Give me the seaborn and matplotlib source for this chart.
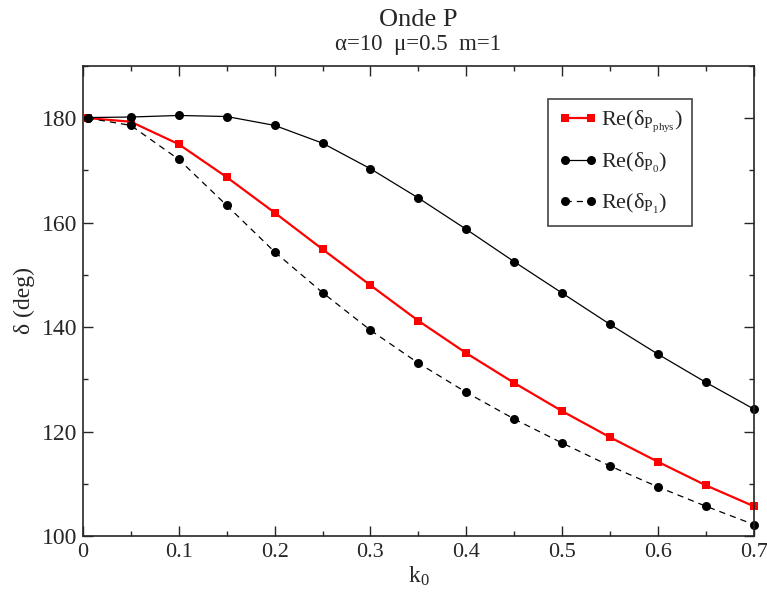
import numpy as np
import pandas as pd
import matplotlib
matplotlib.use("Agg")
import matplotlib.pyplot as plt
import seaborn as sns
from matplotlib.ticker import MultipleLocator

# データ
k0 = [0.005, 0.05, 0.10, 0.15, 0.20, 0.25, 0.30, 0.35,
      0.40, 0.45, 0.50, 0.55, 0.60, 0.65, 0.70]
re_phys = [180.0, 179.3, 175.0, 168.7, 161.9, 154.9, 148.0, 141.2,
           135.0, 129.3, 123.9, 118.9, 114.2, 109.7, 105.7]
re_p0 = [180.1, 180.2, 180.5, 180.3, 178.6, 175.2, 170.3, 164.7,
         158.7, 152.5, 146.5, 140.5, 134.8, 129.4, 124.3]
re_p1 = [180.0, 178.6, 172.1, 163.3, 154.4, 146.6, 139.4, 133.1,
         127.5, 122.4, 117.8, 113.4, 109.4, 105.7, 102.2]

labels = [r"Re(δ$_{\mathrm{P}_{\mathrm{phys}}}$)",
          r"Re(δ$_{\mathrm{P}_{0}}$)",
          r"Re(δ$_{\mathrm{P}_{1}}$)"]
xtick_labels = ["0", "0.1", "0.2", "0.3", "0.4", "0.5", "0.6", "0.7"]

sns.set_style("ticks")
plt.rcParams['font.family'] = ['Liberation Serif', 'DejaVu Serif']
plt.rcParams['mathtext.fontset'] = 'custom'
plt.rcParams['mathtext.rm'] = 'Liberation Serif'
plt.rcParams['mathtext.it'] = 'Liberation Serif:italic'

df = pd.DataFrame({
    "k0": k0 * 3,
    "delta": re_phys + re_p0 + re_p1,
    "series": [labels[0]] * len(k0) + [labels[1]] * len(k0) + [labels[2]] * len(k0),
})

fig = plt.figure(figsize=(7.67, 5.93), dpi=100)
ax = fig.add_axes([0.108, 0.096, 0.875, 0.793])

sns.lineplot(data=df, x="k0", y="delta", hue="series", style="series",
             palette=["#ff0000", "black", "black"],
             markers=["s", "o", "o"],
             dashes=[(), (), (5, 4)],
             markersize=6, markeredgewidth=0, ax=ax, legend=False)

# 線幅とマーカーサイズを系列ごとに調整
for line, lw, ms in zip(ax.get_lines(), [1.6, 0.9, 0.9], [5.2, 6.5, 6.5]):
    line.set_linewidth(lw)
    line.set_markersize(ms)
    line.set_clip_on(False)

ax.set_xlim(0, 0.7)
ax.set_ylim(100, 190)
ax.set_xticks([0, 0.1, 0.2, 0.3, 0.4, 0.5, 0.6, 0.7])
ax.set_xticklabels(xtick_labels)
ax.xaxis.set_minor_locator(MultipleLocator(0.05))
ax.yaxis.set_major_locator(MultipleLocator(20))
ax.yaxis.set_minor_locator(MultipleLocator(10))
ax.tick_params(which="both", direction="in", top=True, right=True, width=1.0)
ax.tick_params(axis="x", pad=5, labelsize=16)
ax.tick_params(axis="y", pad=4, labelsize=17)
ax.tick_params(which="major", length=7)
ax.tick_params(which="minor", length=3.5)
for sp in ax.spines.values():
    sp.set_linewidth(1.2)
    sp.set_visible(True)

ax.set_xlabel(r"k$_0$", fontsize=17, labelpad=2)
ax.set_ylabel("δ (deg)", fontsize=17, labelpad=5)

# 凡例（両端にマーカー）
handles = ax.get_lines()[:3]
leg = ax.legend(handles, labels, loc="upper right",
                bbox_to_anchor=(0.908, 0.93), fontsize=16,
                frameon=True, fancybox=False, framealpha=1,
                edgecolor="#444444", handlelength=1.75, numpoints=2,
                handletextpad=0.15, labelspacing=0.75, borderpad=0.45,
                borderaxespad=0)
leg.get_frame().set_linewidth(1.2)

fig.text(0.545, 0.967, "Onde P", ha="center", va="center", fontsize=19)
fig.text(0.545, 0.925, "α=10  μ=0.5  m=1", ha="center", va="center", fontsize=16.5)

fig.savefig("out.png", dpi=100)
